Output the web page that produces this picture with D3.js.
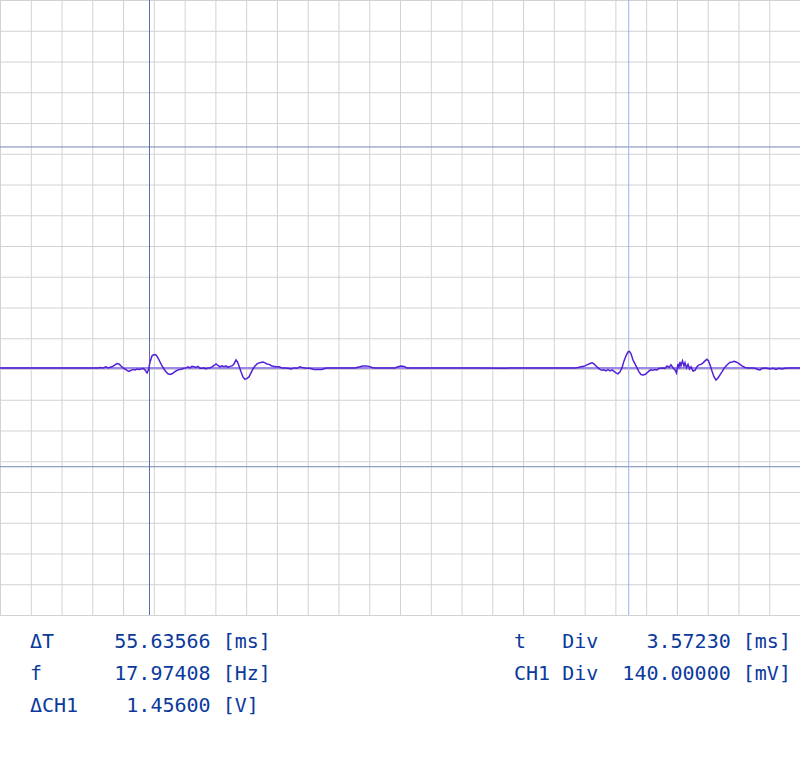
<!DOCTYPE html>
<html>
<head>
<meta charset="utf-8">
<script src="https://cdn.jsdelivr.net/npm/d3@7"></script>
<style>
  html, body { margin: 0; padding: 0; background: #ffffff; }
  svg { display: block; }
  text { white-space: pre; }
</style>
</head>
<body>
<div id="chart"></div>
<script>
// ---------- data ----------
const timeDivMs = 3.5723;      // ms per horizontal division
const ch1DivMv = 140;          // mV per vertical division
const hDivs = 26;
const vDivs = 20;
const ch1BottomMv = -1125;     // CH1 level at the bottom edge of the screen

// CH1 trace samples: time [ms], voltage [mV]
const timeMs = [0.00, 11.38, 11.61, 11.96, 12.31, 12.54, 13.00, 13.35, 13.58, 13.82, 14.05, 14.28, 14.51, 14.74, 14.98, 15.21, 15.44, 15.67, 15.91, 16.14, 16.37, 16.60, 16.83, 17.07, 17.24, 17.42, 17.65, 17.88, 18.11, 18.34, 18.58, 18.81, 19.04, 19.27, 19.50, 19.74, 19.97, 20.20, 20.43, 20.67, 20.90, 21.13, 21.36, 21.59, 21.83, 22.06, 22.29, 22.52, 22.76, 22.99, 23.22, 23.45, 23.68, 23.92, 24.15, 24.38, 24.61, 24.85, 25.08, 25.31, 25.54, 25.77, 26.01, 26.24, 26.47, 26.70, 26.94, 27.17, 27.40, 27.57, 27.75, 27.98, 28.21, 28.44, 28.68, 28.91, 29.14, 29.37, 29.61, 29.84, 30.07, 30.30, 30.53, 30.77, 31.00, 31.23, 31.46, 31.70, 32.04, 32.39, 32.74, 33.09, 33.44, 33.79, 34.13, 34.48, 34.83, 35.06, 35.41, 35.99, 36.46, 36.92, 37.38, 37.73, 38.08, 39.47, 41.22, 41.80, 42.14, 42.49, 42.84, 43.19, 43.54, 44.70, 45.86, 46.21, 46.56, 46.90, 47.25, 48.76, 55.73, 58.63, 59.21, 65.02, 66.76, 67.11, 67.45, 67.80, 68.15, 68.50, 68.73, 68.96, 69.20, 69.43, 69.66, 69.89, 70.12, 70.36, 70.59, 70.82, 71.05, 71.29, 71.52, 71.75, 71.98, 72.21, 72.45, 72.68, 72.91, 73.08, 73.26, 73.49, 73.72, 73.96, 74.19, 74.42, 74.65, 74.88, 75.12, 75.35, 75.58, 75.81, 76.05, 76.28, 76.51, 76.86, 77.21, 77.44, 77.67, 77.90, 78.14, 78.37, 78.54, 78.72, 78.83, 78.95, 79.06, 79.24, 79.41, 79.53, 79.70, 79.88, 80.05, 80.23, 80.46, 80.69, 80.92, 81.15, 81.39, 81.62, 81.85, 82.08, 82.26, 82.43, 82.66, 82.90, 83.13, 83.36, 83.59, 83.82, 84.06, 84.29, 84.52, 84.75, 84.99, 85.22, 85.45, 85.68, 85.91, 86.15, 86.49, 86.84, 87.31, 87.66, 88.00, 88.24, 88.47, 88.93, 89.40, 89.75, 90.09, 90.44, 90.79, 91.14, 91.72, 92.88];
const ch1Mv = [0, 0, 2, 0, 5, 0, 5, 14, 20, 18, 9, 0, -5, -11, -16, -11, -7, -9, -5, -7, -5, -2, -9, -23, -9, 27, 55, 61, 59, 46, 27, 9, -5, -18, -27, -30, -27, -20, -14, -9, -7, -5, -2, 0, 5, 0, 7, 5, 2, 7, -2, -2, 0, -5, 0, 0, 5, 11, 18, 11, 5, 9, 5, 9, 2, 7, 9, 18, 36, 27, 9, -18, -41, -52, -48, -41, -23, -5, 9, 18, 23, 25, 27, 23, 18, 16, 11, 7, 5, 5, 0, 0, -2, -5, 0, -2, 5, 2, 0, -2, -7, -7, -7, -2, 0, 0, 0, 5, 9, 9, 7, 2, 0, 0, 0, 5, 9, 7, 0, 0, 0, -2, 0, 0, 0, 2, 5, 7, 14, 20, 23, 18, 9, 0, -7, -11, -9, -14, -7, -14, -9, -16, -23, -27, -18, 0, 32, 55, 73, 75, 64, 36, 18, 0, -18, -30, -32, -30, -23, -14, -9, -11, -7, -9, -2, 0, -2, 9, 2, 14, 0, -9, -23, 18, 5, 27, 9, 32, 9, 23, 0, 16, -5, 5, -14, -11, 5, 14, 16, 23, 32, 39, 32, 14, -14, -41, -55, -46, -32, -18, -2, 9, 18, 25, 27, 30, 27, 23, 16, 9, 2, 0, 0, -2, -7, -9, -2, 0, -5, -2, -7, -2, -5, -2, 0, 0];

// cursors
const timeCursorsMs = [17.357, 72.993];
const voltCursorsMv = [1006, -450];

// readout texts
const readoutLeft = ["ΔT     55.63566 [ms]", "f      17.97408 [Hz]", "ΔCH1    1.45600 [V]"];
const readoutRight = ["t   Div    3.57230 [ms]", "CH1 Div  140.00000 [mV]"];

// ---------- drawing ----------
const W = 800, H = 776, plotH = 615;
const svg = d3.select("#chart").append("svg").attr("width", W).attr("height", H);

const x = d3.scaleLinear().domain([0, hDivs * timeDivMs]).range([0, W]);
const y = d3.scaleLinear()
  .domain([ch1BottomMv, ch1BottomMv + vDivs * ch1DivMv])
  .range([plotH, 0]);

const xTicks = d3.range(0, hDivs + 1).map(i => i * timeDivMs);
const yTicks = d3.range(0, vDivs + 1).map(i => ch1BottomMv + i * ch1DivMv);

// grid via axes
const gx = svg.append("g").attr("transform", `translate(0,${plotH})`)
  .call(d3.axisBottom(x).tickValues(xTicks).tickSize(-plotH).tickFormat(""));
const gy = svg.append("g")
  .call(d3.axisLeft(y).tickValues(yTicks).tickSize(-W).tickFormat(""));
[gx, gy].forEach(g => {
  g.select(".domain").remove();
  g.selectAll(".tick line").attr("stroke", "#d2d2d2").attr("stroke-width", 1);
});

// zero reference line
svg.append("line")
  .attr("x1", 0).attr("x2", W)
  .attr("y1", y(0)).attr("y2", y(0))
  .attr("stroke", "#9d8ae6").attr("stroke-width", 2);

// cursors
svg.append("g").selectAll("line").data(voltCursorsMv).join("line")
  .attr("x1", 0).attr("x2", W)
  .attr("y1", d => y(d)).attr("y2", d => y(d))
  .attr("stroke", "#7886b8").attr("stroke-width", 1);
svg.append("g").selectAll("line").data(timeCursorsMs).join("line")
  .attr("y1", 0).attr("y2", plotH)
  .attr("x1", d => x(d)).attr("x2", d => x(d))
  .attr("stroke", (d, i) => i === 0 ? "#5a6ea8" : "#9ab4e6").attr("stroke-width", 1);

// trace
const pts = timeMs.map((t, i) => [t, ch1Mv[i]]);
svg.append("path")
  .datum(pts)
  .attr("fill", "none")
  .attr("stroke", "#5221d6")
  .attr("stroke-width", 1.5)
  .attr("stroke-linejoin", "miter")
  .attr("d", d3.line().x(d => x(d[0])).y(d => y(d[1])));

// readouts
const font = "'DejaVu Sans Mono', monospace";
svg.append("g").selectAll("text").data(readoutLeft).join("text")
  .attr("x", 30).attr("y", (d, i) => 648 + i * 32)
  .attr("xml:space", "preserve")
  .attr("font-family", font).attr("font-size", 20).attr("fill", "#0b3a9c")
  .text(d => d);
svg.append("g").selectAll("text").data(readoutRight).join("text")
  .attr("x", 514).attr("y", (d, i) => 648 + i * 32)
  .attr("xml:space", "preserve")
  .attr("font-family", font).attr("font-size", 20).attr("fill", "#0b3a9c")
  .text(d => d);
</script>
</body>
</html>
